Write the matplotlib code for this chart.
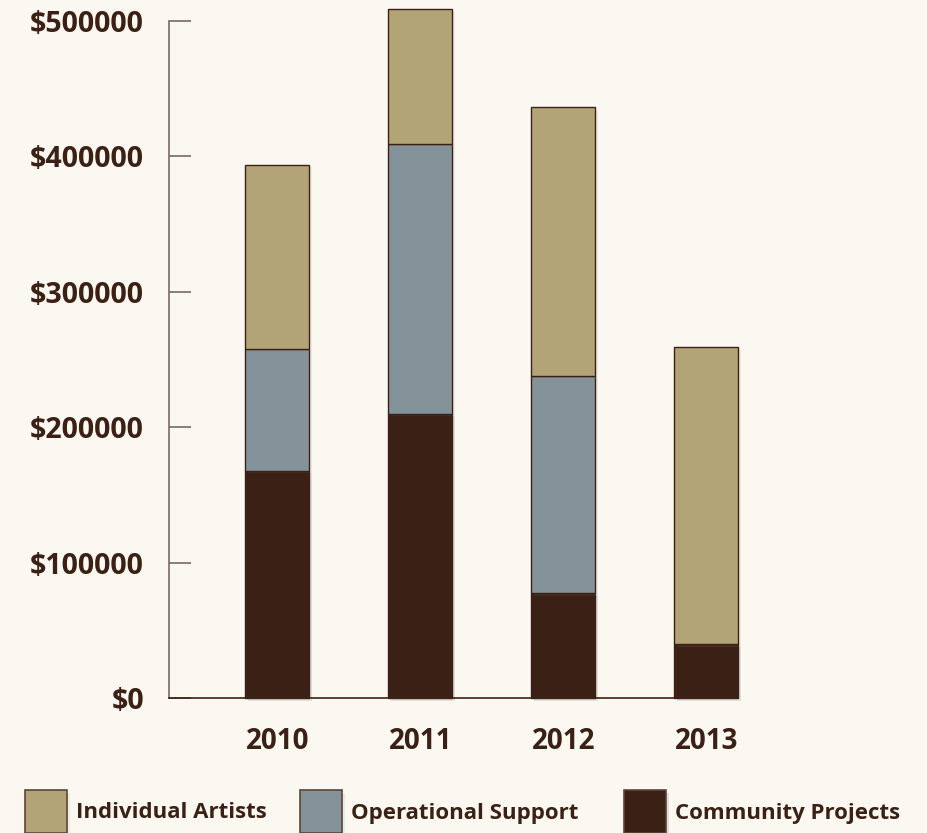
import matplotlib.pyplot as plt
from matplotlib.patches import Rectangle
import matplotlib.patheffects as pe
import numpy as np

years = ["2010", "2011", "2012", "2013"]
community = [168000, 210000, 77500, 40000]
operational = [90000, 199000, 160000, 0]
individual = [136000, 100000, 199000, 219000]

series_names = ["Individual Artists", "Operational Support", "Community Projects"]
colors = ["#b3a478", "#84939a", "#3b2015"]

bg = "#fbf8f1"
text_color = "#3b2015"
axis_color = "#7a6a62"

plt.rcParams["font.family"] = ["Open Sans", "DejaVu Sans"]
plt.rcParams["font.weight"] = "bold"

fig = plt.figure(figsize=(9.28, 8.33), dpi=100, facecolor=bg)
ax = fig.add_axes([169 / 928, 135 / 833, 569 / 928, 677 / 833])
ax.set_facecolor(bg)

x = np.arange(len(years))
w = 0.445
shadow = [pe.SimplePatchShadow(offset=(2, -2), alpha=0.12, rho=0.9), pe.Normal()]

bottom = np.zeros(len(years))
for vals, col in [(community, colors[2]), (operational, colors[1]), (individual, colors[0])]:
    vals = np.array(vals, dtype=float)
    bars = ax.bar(x, vals, w, bottom=bottom, color=col, edgecolor="#3b2015",
                  linewidth=1, clip_on=False, zorder=3)
    for b in bars:
        b.set_path_effects(shadow)
    bottom += vals

ax.set_xlim(-0.757, 3.222)
ax.set_ylim(0, 500000)
ax.set_yticks(np.arange(0, 500001, 100000))
ax.set_yticklabels(["${}".format(int(v)) for v in np.arange(0, 500001, 100000)])
ax.set_xticks(x)
ax.set_xticklabels(years)

for s in ["top", "right"]:
    ax.spines[s].set_visible(False)
ax.spines["left"].set_color(axis_color)
ax.spines["bottom"].set_color(text_color)
ax.spines["left"].set_linewidth(1.2)
ax.spines["bottom"].set_linewidth(1.2)

ax.tick_params(axis="y", direction="in", length=16, width=1.2, color=axis_color,
               pad=18, labelsize=20.5, labelcolor=text_color)
ax.tick_params(axis="x", length=0, pad=21, labelsize=20, labelcolor=text_color)

# legend drawn by hand in figure coordinates
leg_x = [25, 300, 624]
for i, name in enumerate(series_names):
    x0 = leg_x[i] / 928
    r = Rectangle((x0, 0), 42 / 928, 43 / 833, transform=fig.transFigure,
                  facecolor=colors[i], edgecolor="#5a4638", linewidth=1.2, clip_on=False)
    r.set_path_effects(shadow)
    fig.add_artist(r)
    fig.text(x0 + 51 / 928, 1 - 813 / 833, name, fontsize=16, color=text_color,
             va="center", ha="left", fontweight="bold")

fig.savefig("out.png", dpi=100, facecolor=bg)
